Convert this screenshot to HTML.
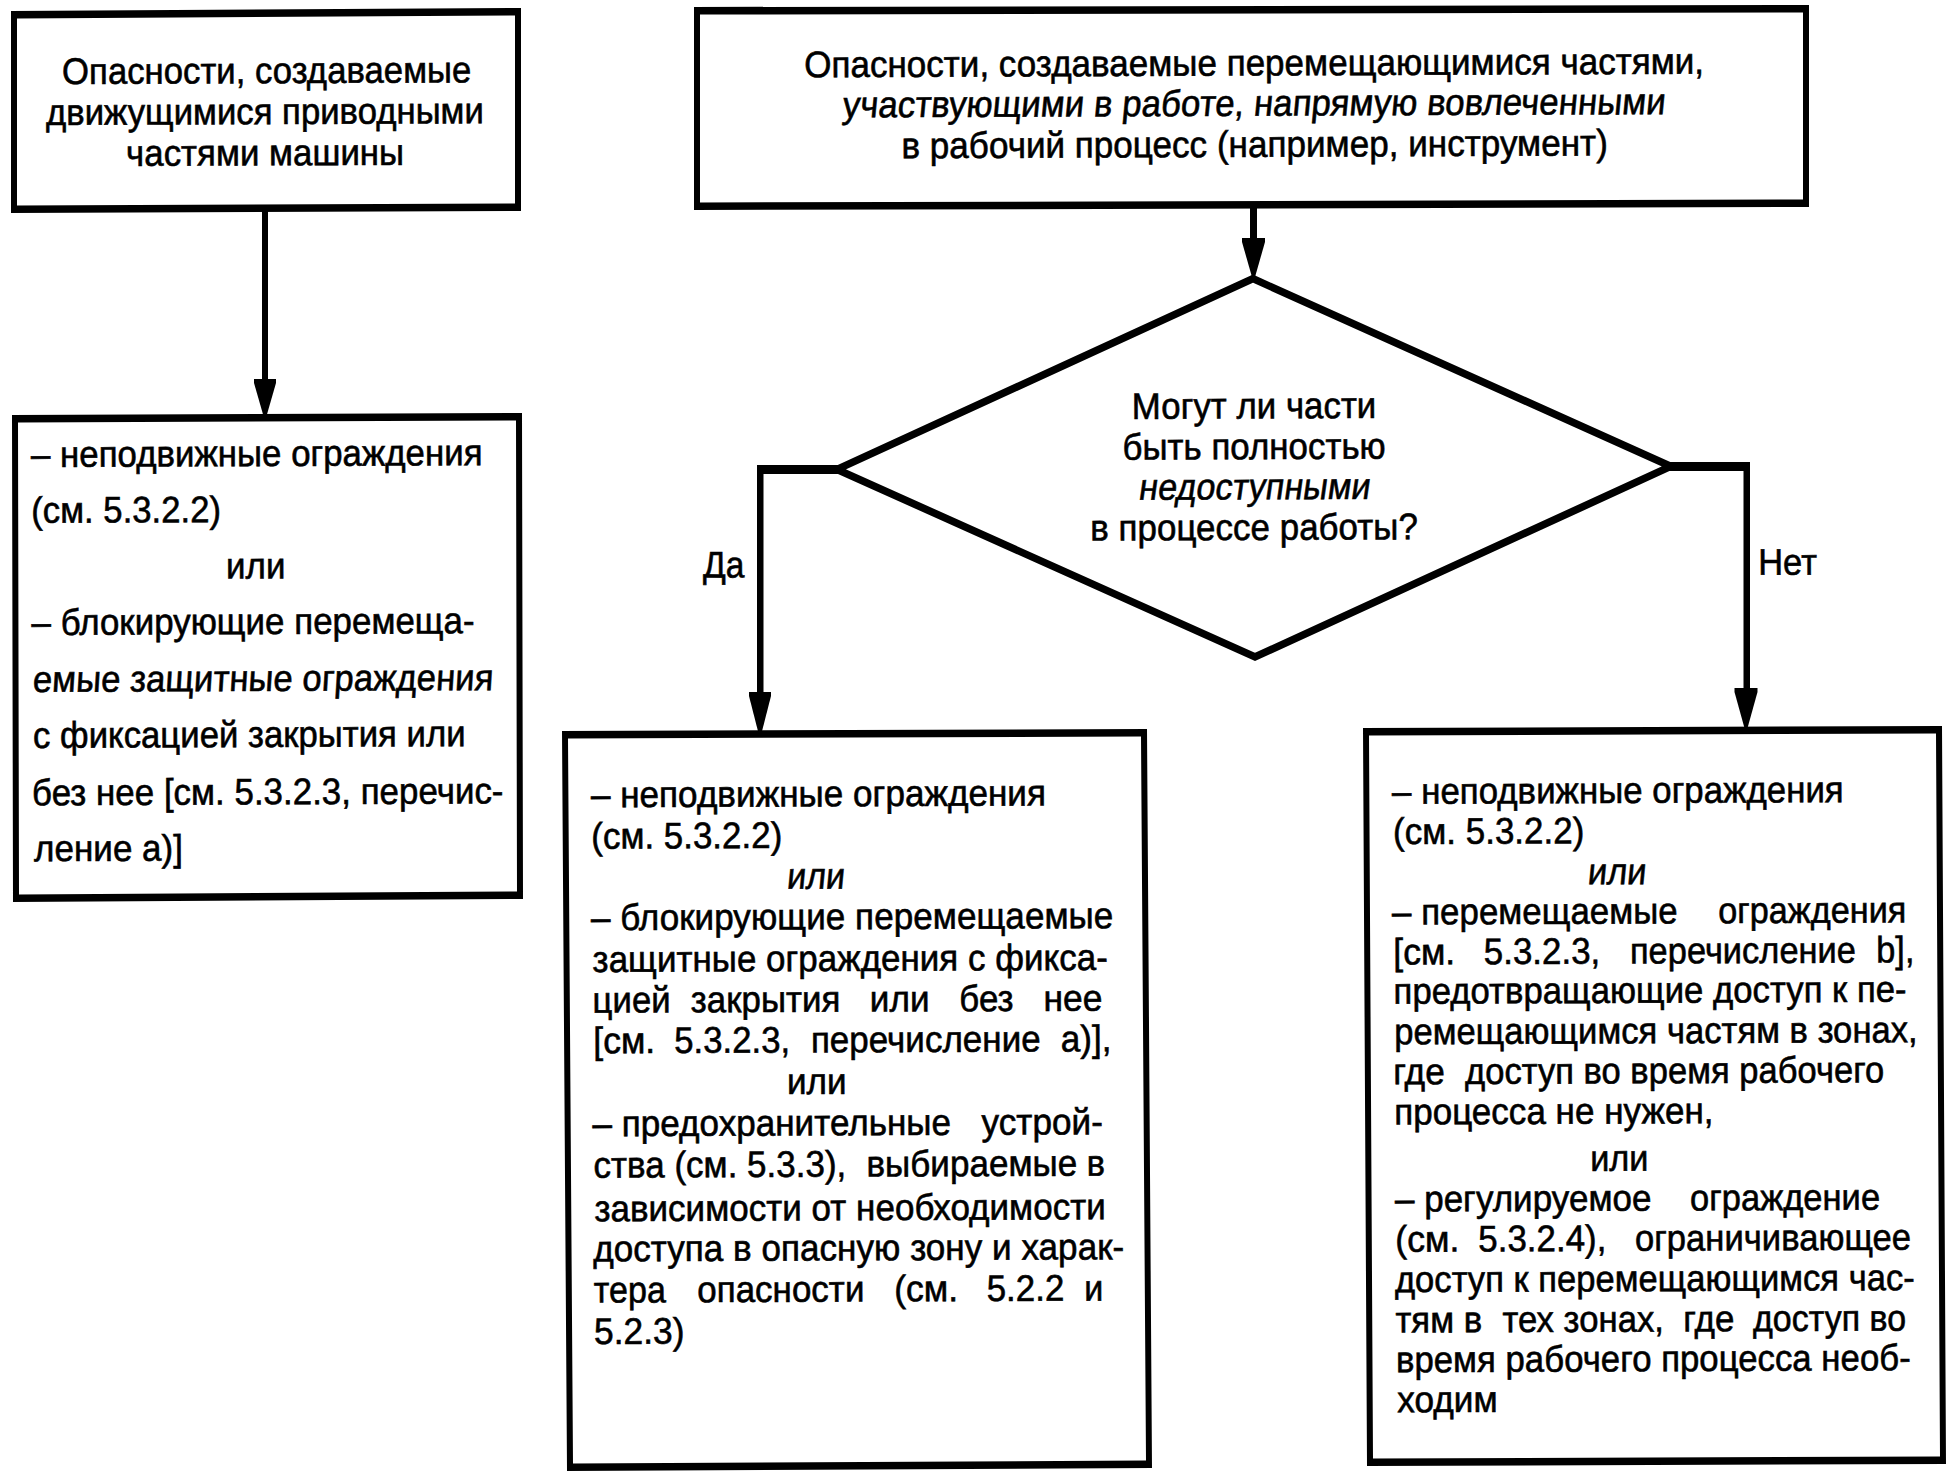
<!DOCTYPE html>
<html><head><meta charset="utf-8"><style>
html,body{margin:0;padding:0;background:#fff;}
body{width:1954px;height:1480px;overflow:hidden;}
svg{display:block;}
text{font-family:"Liberation Sans",sans-serif;font-size:37px;fill:#000;white-space:pre;stroke:#000;stroke-width:0.6px;}
</style></head><body>
<svg width="1954" height="1480" viewBox="0 0 1954 1480">
<rect width="1954" height="1480" fill="#fff"/>
<g fill="#000">
<path fill-rule="evenodd" d="M11,11 L521,8 L521,211 L11,213 Z M17,18.5 L515,15.5 L515,203.5 L17,205.5 Z"/>
<path fill-rule="evenodd" d="M12,415 L522,413 L523,899 L13,902 Z M18,422.5 L516,420.5 L517,891.5 L19,894.5 Z"/>
<path fill-rule="evenodd" d="M694,7 L1809,5 L1809,207 L694,210 Z M700,14.5 L1803,12.5 L1803,199.5 L700,202.5 Z"/>
<path fill-rule="evenodd" d="M562,731 L1147,729 L1152,1468 L567,1471 Z M568,738.5 L1141,736.5 L1146,1460.5 L573,1463.5 Z"/>
<path fill-rule="evenodd" d="M1363,728 L1942,726 L1946,1464 L1367,1466 Z M1369,735.5 L1936,733.5 L1940,1456.5 L1373,1458.5 Z"/>
<rect x="262" y="209" width="6" height="172"/>
<polygon points="254,379 276,379 276,383 266.8,415 263.2,415 254,383"/>
<rect x="1250" y="205" width="7" height="35"/>
<polygon points="1242.0,238 1265.0,238 1265.0,242 1255.3,276 1251.7,276 1242.0,242"/>
<polygon fill="none" stroke="#000" stroke-width="7.5" stroke-linejoin="miter" stroke-miterlimit="20" points="1253,278.7 1670.7,466.4 1255,657 837,469.4"/>
<rect x="757" y="465" width="82" height="9"/>
<rect x="757" y="465" width="6.5" height="229"/>
<polygon points="749,692 771,692 771,696 761.8,732 758.2,732 749,696"/>
<rect x="1668" y="462" width="82" height="9"/>
<rect x="1743.5" y="462" width="6.5" height="228"/>
<polygon points="1734.5,688 1757.5,688 1757.5,692 1747.8,727 1744.2,727 1734.5,692"/>
</g>
<g>
<text transform="translate(62.06,84.00) rotate(-0.229) scale(0.9391,1)">Опасности, создаваемые</text>
<text transform="translate(46.00,125.00) rotate(-0.229) scale(0.9386,1)">движущимися приводными</text>
<text transform="translate(126.11,165.90) rotate(-0.229) scale(0.9426,1)">частями машины</text>
<text transform="translate(804.25,77.30) rotate(-0.229) scale(0.9471,1)">Опасности, создаваемые перемещающимися частями,</text>
<text transform="translate(841.80,117.40) rotate(-0.229) scale(0.9433,1) skewX(-6)">участвующими в работе, напрямую вовлеченными</text>
<text transform="translate(901.40,158.30) rotate(-0.229) scale(0.9485,1)">в рабочий процесс (например, инструмент)</text>
<text transform="translate(1131.87,418.90) rotate(-0.229) scale(0.9420,1)">Могут ли части</text>
<text transform="translate(1122.51,459.70) rotate(-0.229) scale(0.9435,1)">быть полностью</text>
<text transform="translate(1137.75,499.80) rotate(-0.229) scale(0.9262,1) skewX(-9)">недоступными</text>
<text transform="translate(1090.31,540.60) rotate(-0.229) scale(0.9454,1)">в процессе работы?</text>
<text transform="translate(703.00,577.60) rotate(-0.229) scale(0.9075,1)">Да</text>
<text transform="translate(1758.20,574.80) rotate(-0.229) scale(0.9323,1)">Нет</text>
<text transform="translate(31.00,467.00) rotate(-0.229) scale(0.9418,1)">– неподвижные ограждения</text>
<text transform="translate(31.32,522.90) rotate(-0.229) scale(0.9378,1)">(см. 5.3.2.2)</text>
<text transform="translate(226.01,578.60) rotate(-0.229) scale(0.9450,1)">или</text>
<text transform="translate(31.60,635.00) rotate(-0.229) scale(0.9446,1)">– блокирующие перемеща-</text>
<text transform="translate(32.26,691.90) rotate(-0.229) scale(0.9396,1) skewX(-4)">емые защитные ограждения</text>
<text transform="translate(33.06,747.90) rotate(-0.229) scale(0.9394,1)">с фиксацией закрытия или</text>
<text transform="translate(32.11,805.30) rotate(-0.229) scale(0.9441,1)">без нее [см. 5.3.2.3, перечис-</text>
<text transform="translate(34.00,861.20) rotate(-0.229) scale(0.9476,1)">ление а)]</text>
<text transform="translate(590.90,807.30) rotate(-0.229) scale(0.9494,1)">– неподвижные ограждения</text>
<text transform="translate(591.31,848.70) rotate(-0.229) scale(0.9444,1)">(см. 5.3.2.2)</text>
<text transform="translate(786.16,888.80) rotate(-0.229) scale(0.9224,1) skewX(-6)">или</text>
<text transform="translate(590.90,930.20) rotate(-0.229) scale(0.9498,1)">– блокирующие перемещаемые</text>
<text transform="translate(592.60,972.00) rotate(-0.229) scale(0.9459,1)">защитные ограждения с фикса-</text>
<text transform="translate(592.62,1012.70) rotate(-0.229) scale(0.9391,1)">цией</text>
<text transform="translate(690.80,1012.31) rotate(-0.229) scale(0.9443,1)">закрытия</text>
<text transform="translate(869.80,1011.59) rotate(-0.229) scale(0.9501,1)">или</text>
<text transform="translate(959.31,1011.23) rotate(-0.229) scale(0.9442,1)">без</text>
<text transform="translate(1043.38,1010.90) rotate(-0.229) scale(0.9584,1)">нее</text>
<text transform="translate(593.28,1053.30) rotate(-0.229) scale(0.9609,1)">[см.</text>
<text transform="translate(674.26,1052.98) rotate(-0.229) scale(0.9392,1)">5.3.2.3,</text>
<text transform="translate(810.91,1052.43) rotate(-0.229) scale(0.9463,1)">перечисление</text>
<text transform="translate(1060.65,1051.43) rotate(-0.229) scale(0.9537,1)">а)],</text>
<text transform="translate(787.00,1094.10) rotate(-0.229) scale(0.9484,1)">или</text>
<text transform="translate(592.60,1136.30) rotate(-0.229) scale(0.9484,1)">– предохранительные</text>
<text transform="translate(981.50,1134.74) rotate(-0.229) scale(0.9513,1)">устрой-</text>
<text transform="translate(593.45,1177.70) rotate(-0.229) scale(0.9465,1)">ства (см. 5.3.3),</text>
<text transform="translate(866.40,1176.60) rotate(-0.229) scale(0.9480,1)">выбираемые</text>
<text transform="translate(1086.84,1175.72) rotate(-0.229) scale(0.9294,1)">в</text>
<text transform="translate(594.40,1221.30) rotate(-0.229) scale(0.9472,1)">зависимости от необходимости</text>
<text transform="translate(593.20,1261.40) rotate(-0.229) scale(0.9491,1)">доступа в опасную зону и харак-</text>
<text transform="translate(593.80,1302.60) rotate(-0.229) scale(0.9227,1)">тера</text>
<text transform="translate(697.25,1302.18) rotate(-0.229) scale(0.9457,1)">опасности</text>
<text transform="translate(894.17,1301.39) rotate(-0.229) scale(0.9631,1)">(см.</text>
<text transform="translate(986.66,1301.02) rotate(-0.229) scale(0.9446,1)">5.2.2</text>
<text transform="translate(1084.15,1300.63) rotate(-0.229) scale(0.9235,1)">и</text>
<text transform="translate(593.94,1344.00) rotate(-0.229) scale(0.9589,1)">5.2.3)</text>
<text transform="translate(1392.10,803.90) rotate(-0.229) scale(0.9421,1)">– неподвижные ограждения</text>
<text transform="translate(1393.01,844.10) rotate(-0.229) scale(0.9464,1)">(см. 5.3.2.2)</text>
<text transform="translate(1587.04,884.30) rotate(-0.229) scale(0.9306,1) skewX(-6)">или</text>
<text transform="translate(1392.10,924.50) rotate(-0.229) scale(0.9433,1)">– перемещаемые</text>
<text transform="translate(1718.17,923.19) rotate(-0.229) scale(0.9259,1)">ограждения</text>
<text transform="translate(1393.28,964.50) rotate(-0.229) scale(0.9609,1)">[см.</text>
<text transform="translate(1483.76,964.14) rotate(-0.229) scale(0.9442,1)">5.3.2.3,</text>
<text transform="translate(1629.94,963.55) rotate(-0.229) scale(0.9312,1)">перечисление</text>
<text transform="translate(1876.24,962.57) rotate(-0.229) scale(0.9287,1)">b],</text>
<text transform="translate(1393.62,1003.80) rotate(-0.229) scale(0.9393,1)">предотвращающие доступ к пе-</text>
<text transform="translate(1394.23,1044.30) rotate(-0.229) scale(0.9366,1)">ремещающимся частям в зонах,</text>
<text transform="translate(1393.29,1084.30) rotate(-0.229) scale(0.9539,1)">где</text>
<text transform="translate(1465.00,1084.02) rotate(-0.229) scale(0.9347,1)">доступ во время рабочего</text>
<text transform="translate(1394.20,1124.50) rotate(-0.229) scale(0.9475,1)">процесса не нужен,</text>
<text transform="translate(1590.14,1170.90) rotate(-0.229) scale(0.9282,1)">или</text>
<text transform="translate(1394.90,1211.60) rotate(-0.229) scale(0.9477,1)">– регулируемое</text>
<text transform="translate(1689.97,1210.42) rotate(-0.229) scale(0.9332,1)">ограждение</text>
<text transform="translate(1395.27,1251.80) rotate(-0.229) scale(0.9631,1)">(см.</text>
<text transform="translate(1478.36,1251.47) rotate(-0.229) scale(0.9432,1)">5.3.2.4),</text>
<text transform="translate(1634.96,1250.85) rotate(-0.229) scale(0.9362,1)">ограничивающее</text>
<text transform="translate(1394.90,1292.20) rotate(-0.229) scale(0.9355,1)">доступ к перемещающимся час-</text>
<text transform="translate(1395.40,1332.60) rotate(-0.229) scale(0.9411,1)">тям в</text>
<text transform="translate(1502.50,1332.17) rotate(-0.229) scale(0.9395,1)">тех зонах,</text>
<text transform="translate(1683.31,1331.44) rotate(-0.229) scale(0.9460,1)">где</text>
<text transform="translate(1753.00,1331.17) rotate(-0.229) scale(0.9188,1)">доступ во</text>
<text transform="translate(1395.92,1372.30) rotate(-0.229) scale(0.9406,1)">время рабочего процесса необ-</text>
<text transform="translate(1397.20,1412.20) rotate(-0.229) scale(0.9524,1)">ходим</text>
</g>
</svg>
</body></html>
